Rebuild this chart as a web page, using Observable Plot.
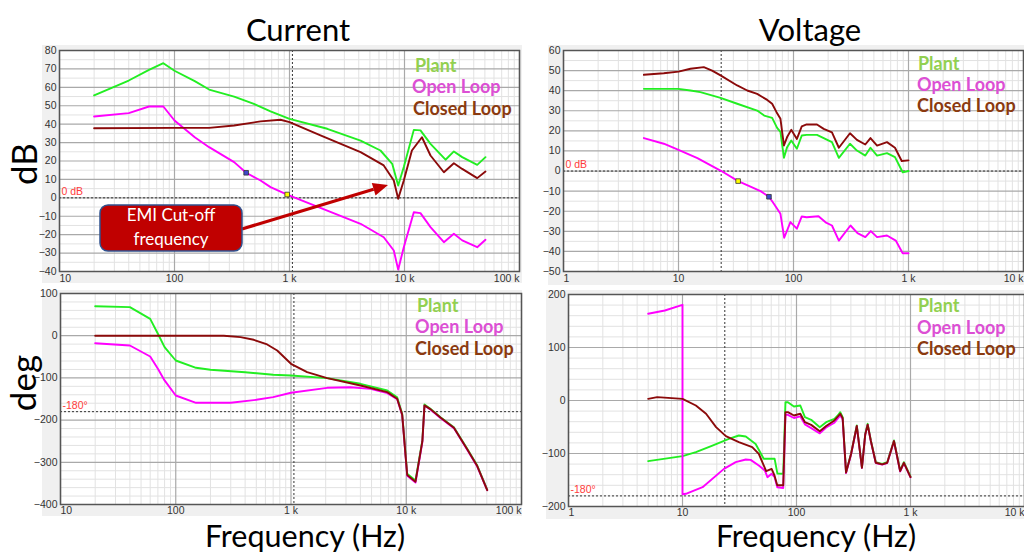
<!DOCTYPE html>
<html><head><meta charset="utf-8">
<script src="https://cdn.jsdelivr.net/npm/d3@7"></script>
<script src="https://cdn.jsdelivr.net/npm/@observablehq/plot@0.6"></script>
<style>
html,body{margin:0;padding:0;background:#fff;}
#page{position:relative;width:1024px;height:552px;overflow:hidden;background:#fff;}
.panel{position:absolute;}
#overlay{position:absolute;left:0;top:0;pointer-events:none;}
</style></head><body><div id="page"></div>
<script>
// ---------- Current: magnitude (dB) ----------
const curMagFreqPlant = [20, 40, 60, 80, 100, 150, 200, 330, 490, 684, 1000, 2130, 4150, 6180, 7820, 8810, 9860, 12050, 13770, 16830, 22740, 26870, 31760, 42880, 50600];
const curMagPlant     = [55.6, 63.7, 69.5, 73.1, 69, 63.4, 58.8, 55, 51, 47, 42.9, 37.5, 31.1, 25.7, 18.5, 6.7, 16.7, 36.9, 36.6, 29.3, 20.7, 25.2, 22.1, 17.9, 22.1];
const curMagFreqOpen  = [20, 40, 60, 80, 100, 150, 200, 330, 420, 560, 684, 955, 2130, 4150, 6600, 8070, 8810, 9860, 12050, 13770, 16830, 22000, 26870, 31760, 42880, 50600];
const curMagOpen      = [44.2, 46, 49.6, 49.6, 42, 32.9, 27.5, 19.4, 13.6, 9.4, 5.8, 1.8, -6.9, -14.1, -21.4, -28.6, -39, -26.8, -7.8, -8.3, -15.9, -24.1, -19.5, -23.1, -26.8, -22.8];
const curMagFreqClosed= [20, 100, 200, 330, 560, 835, 1000, 1860, 4150, 6600, 8070, 8810, 9860, 11600, 14180, 16830, 22000, 26870, 31760, 42880, 50600];
const curMagClosed    = [37.8, 38, 38, 39.3, 41.5, 42.4, 41.1, 33.9, 24.8, 17.6, 9.4, -0.5, 9.4, 25.7, 32.9, 23, 13.9, 18.8, 15.7, 10.7, 14.3];
const curMagMarkerFreq = [420, 955];
const curMagMarkerVal  = [13.6, 1.8];

// ---------- Voltage: magnitude (dB) ----------
const volMagFreqPlant = [5, 10, 12.7, 15.5, 23.2, 32.4, 48.3, 55.6, 65.2, 72, 77, 82.6, 88, 95.6, 107, 118, 130, 160, 183, 216, 248, 310, 356, 421, 467, 533, 650, 763, 890, 1000];
const volMagPlant     = [40.9, 40.9, 40.1, 39.3, 36.4, 33.5, 30.1, 27.6, 26.5, 21.5, 19.5, 6.6, 11.9, 15.2, 11.1, 17.7, 18, 18, 16.4, 14.4, 6.6, 13.6, 10.2, 7.7, 11.6, 7.7, 8.9, 6.9, -0.6, 0];
const volMagFreqOpen  = [5, 7.45, 10, 14.6, 23.6, 33, 51.7, 61.2, 67.5, 77, 83, 94, 107, 118, 130, 165, 190, 216, 248, 313, 360, 421, 470, 533, 650, 775, 890, 1000];
const volMagOpen      = [16.4, 13.6, 10.5, 6.4, 0, -5, -10, -12.8, -16.3, -21.3, -33.2, -25.4, -28.7, -22.6, -23, -22.5, -25.5, -27.1, -34.6, -27.1, -30.9, -32.9, -29.9, -32.9, -32.1, -34.6, -40.9, -40.9];
const volMagFreqClosed= [5, 7.45, 10, 12.7, 16.6, 19.6, 23.2, 32.4, 39.6, 48.3, 59.1, 65.2, 71.2, 77, 82.6, 88, 95.6, 107, 118, 130, 160, 183, 216, 248, 310, 356, 421, 467, 533, 650, 763, 873, 1000];
const volMagClosed    = [47.9, 48.7, 49.5, 50.9, 51.7, 50, 47.6, 42.6, 40.1, 38.4, 35.4, 33.5, 29.3, 26, 12.7, 16.9, 20.5, 16, 22.2, 23.2, 23.2, 21, 19.3, 11.6, 18.8, 15.5, 13.2, 16.4, 12.7, 14.4, 11.6, 5, 5.3];
const volMagMarkerFreq = [33, 61.2];
const volMagMarkerVal  = [-5, -12.8];

// ---------- Current: phase (deg) ----------
const curPhFreqPlant = [20, 40, 60, 70, 80, 100, 150, 200, 400, 700, 1000, 2060, 4010, 6840, 8340, 9220, 10190, 12030, 13800, 14390, 16200, 19800, 25900, 33800, 41300, 50400];
const curPhPlant     = [69.9, 67.6, 40, 4.5, -27, -58.8, -76, -80.8, -86.5, -92.7, -94.3, -100.6, -114, -129.9, -145.7, -185, -327, -343, -248, -163, -173, -193, -216.8, -268, -307.6, -365];
const curPhFreqOpen  = [20, 40, 60, 70, 80, 100, 150, 300, 500, 700, 1000, 2060, 3280, 4900, 6840, 8340, 9220, 10190, 12030, 13800, 14390, 16200, 19800, 25900, 33800, 41300, 50400];
const curPhOpen      = [-17.8, -23.2, -49.3, -78.4, -106, -141.7, -159, -159, -151.9, -145.7, -135.3, -123.5, -122, -125.9, -136, -150.5, -188, -332, -348, -252, -166, -175, -195, -219, -270, -310, -366];
const curPhFreqClosed= [20, 261, 365, 475, 621, 759, 1000, 1380, 2060, 4010, 6840, 8340, 9220, 10190, 12030, 13800, 14390, 16200, 19800, 25900, 33800, 41300, 50400];
const curPhClosed    = [0, 0, -3.5, -9.7, -20.8, -35, -66.6, -86.5, -100.6, -118, -133.8, -149.5, -187, -330, -346, -250, -165, -174, -194, -218, -269, -309, -366];

// ---------- Voltage: phase (deg) ----------
const volPhFreqPlant = [5, 10, 13.1, 18.3, 25.5, 31.2, 35.9, 43.8, 51.6, 58.7, 64.3, 68, 76.5, 80, 84, 95, 108, 118.5, 134.5, 160, 182, 215, 230, 242, 254, 272, 301, 338, 375, 401, 421, 449, 496, 565, 625, 716, 811, 875, 1000];
const volPhPlant     = [-114.5, -105, -97.5, -85, -72.6, -66, -68, -82, -110, -110, -110, -138, -138.3, -3.2, -3.2, -11.3, -9.4, -31.5, -36.5, -50.3, -41, -34.6, -28.3, -22, -31.5, -135.2, -100.6, -47.2, -125.8, -62.9, -44, -75.5, -116.4, -119.5, -116.4, -75.5, -132, -116.4, -143.4];
const volPhFreqOpen  = [5, 7, 10, 10, 10.7, 15, 23.1, 29.3, 35.9, 39.6, 46.7, 52.7, 55.6, 60.5, 64.3, 67.8, 76.5, 80, 84, 95, 108, 118.5, 134.5, 160, 182, 215, 242, 254, 272, 301, 338, 375, 401, 421, 449, 496, 565, 625, 716, 811, 875, 1000];
const volPhOpen      = [163.6, 169.8, 180.5, -177, -176, -163.6, -129, -116.4, -111.3, -112, -122.6, -132, -144.7, -138.3, -144.7, -163.6, -165, -27, -27, -33, -30, -45, -52, -62, -51, -42, -28, -36, -137, -102, -49, -127, -64, -46, -77, -118, -121, -118, -77, -134, -118, -145];
const volPhFreqClosed= [5, 6, 10, 13.1, 16.1, 19.7, 24, 31.2, 40.9, 46.7, 54.2, 60.5, 64.1, 67.8, 76.5, 80, 84, 95, 108, 118.5, 134.5, 160, 182, 215, 242, 254, 272, 301, 338, 375, 401, 421, 449, 496, 565, 625, 716, 811, 875, 1000];
const volPhClosed    = [3.1, 6.3, 3.1, -9.4, -25, -50.3, -67.3, -78.6, -88, -100.6, -133.3, -129, -141.5, -160, -160, -22, -22, -28.3, -25, -41, -46, -58, -48, -37.7, -25, -33, -136, -101, -48, -127, -64, -45.5, -76.5, -117.5, -120.5, -117.5, -76.5, -133, -117.5, -144.5];

// ---------- Axis ticks & labels ----------
const curFreqTicks = [10, 100, 1000, 10000, 100000];
const volFreqTicks = [1, 10, 100, 1000, 10000];
const curMagTicks = [-40, -30, -20, -10, 0, 10, 20, 30, 40, 50, 60, 70, 80];
const volMagTicks = [-50, -40, -30, -20, -10, 0, 10, 20, 30, 40, 50, 60];
const curPhTicks = [-400, -300, -200, -100, 0, 100];
const volPhTicks = [-200, -100, 0, 100, 200];
const seriesNames = ["Plant", "Open Loop", "Closed Loop"];
const panelTitles = ["Current", "Voltage"];
const yTitles = ["dB", "deg"];
const xTitle = "Frequency (Hz)";
const emiLabel = ["EMI Cut-off", "frequency"];
const emiArrowFrom = [390, -17.2];
const emiArrowTo = [7260, 6.7];

// ---------- styling ----------
const C_PLANT = "#22ee22", C_OPEN = "#ff00ff", C_CLOSED = "#8b0a0a";
const L_COLORS = ["#92d050", "#dc4fd4", "#8b3a0f"];
const fmtX = d => d >= 1000 ? (d / 1000) + " k" : String(d);
const zip = (fs, vs) => fs.map((f, i) => ({f, v: vs[i]}));
const page = document.getElementById("page");

function makePanel(cfg) {
  const minorX = d3.scaleLog().domain(cfg.xDomain).ticks().filter(t => !cfg.xTicks.some(d => Math.abs(d - t) < 1e-9 * d));
  const minorY = d3.range(cfg.yDomain[0], cfg.yDomain[1] + 1e-9, cfg.yMinorStep).filter(v => !cfg.yTicks.includes(v));
  const n = cfg.xTicks.length;
  const ax = {tickSize: 0, tickPadding: cfg.xPad ?? 3, tickFormat: fmtX, color: "#333", fontSize: 10.5, label: null};
  const marks = [
    Plot.frame({fill: "white", stroke: "none"}),
    Plot.ruleX(minorX, {stroke: "#e2e2e2", strokeWidth: 1}),
    Plot.ruleY(minorY, {stroke: "#e2e2e2", strokeWidth: 1}),
    Plot.ruleX(cfg.xTicks, {stroke: "#a9a9a9", strokeWidth: 1.2}),
    Plot.ruleY(cfg.yTicks, {stroke: "#a9a9a9", strokeWidth: 1.2}),
    Plot.ruleY([cfg.refY], {stroke: "#333", strokeWidth: 1, strokeDasharray: "2,2"}),
    Plot.ruleX([cfg.refX], {stroke: "#333", strokeWidth: 1, strokeDasharray: "2,2"}),
    Plot.text([{f: cfg.xDomain[0], v: cfg.refY, t: cfg.refLabel}], {x: "f", y: "v", text: "t", dx: 2, dy: -6, textAnchor: "start", fill: "#ff3b3b", fontSize: 10.5}),
    ...cfg.series.map(s => Plot.line(s.data, {x: "f", y: "v", stroke: s.color, strokeWidth: 1.9, curve: "linear"})),
    ...(cfg.markers ? cfg.markers.map(m => Plot.dot([m], {x: "f", y: "v", symbol: "square", r: 2.6, fill: m.fill, stroke: "#333", strokeWidth: 0.8})) : []),
    Plot.axisX([cfg.xTicks[0]], {...ax, textAnchor: "start"}),
    Plot.axisX(cfg.xTicks.slice(1, -1), {...ax}),
    Plot.axisX([cfg.xTicks[n - 1]], {...ax, textAnchor: "end"}),
    Plot.axisY(cfg.yTicks, {tickSize: 0, tickPadding: 3, color: "#333", fontSize: 10.5, label: null}),
    Plot.frame({stroke: "#555", strokeWidth: 1.5})
  ];
  const chart = Plot.plot({
    width: cfg.width, height: cfg.height,
    marginLeft: cfg.m[0], marginRight: cfg.m[1], marginTop: cfg.m[2], marginBottom: cfg.m[3],
    x: {type: "log", domain: cfg.xDomain, label: null},
    y: {domain: cfg.yDomain, label: null},
    style: {background: "#f0f0f0", maxWidth: "none", overflow: "visible", fontFamily: "'Liberation Sans', Arial, sans-serif", fontSize: "10.5px"},
    marks
  });
  const div = document.createElement("div");
  div.className = "panel";
  div.style.left = cfg.left + "px"; div.style.top = cfg.top + "px";
  div.style.width = cfg.width + "px"; div.style.height = cfg.height + "px";
  div.appendChild(chart);
  page.appendChild(div);
  return chart;
}

const tl = makePanel({
  left: 42, top: 45, width: 480, height: 238, m: [17, 3, 5, 12],
  xDomain: [10, 100000], xTicks: curFreqTicks, yDomain: [-40, 80], yTicks: curMagTicks, yMinorStep: 5,
  refY: 0, refLabel: "0 dB", refX: 1060,
  series: [
    {data: zip(curMagFreqPlant, curMagPlant), color: C_PLANT},
    {data: zip(curMagFreqOpen, curMagOpen), color: C_OPEN},
    {data: zip(curMagFreqClosed, curMagClosed), color: C_CLOSED}
  ],
  markers: [
    {f: curMagMarkerFreq[0], v: curMagMarkerVal[0], fill: "#3f48cc"},
    {f: curMagMarkerFreq[1], v: curMagMarkerVal[1], fill: "#ffff00"}
  ]
});
makePanel({
  left: 548, top: 45, width: 476, height: 240, m: [15, 1, 5, 14],
  xDomain: [1, 10000], xTicks: volFreqTicks, yDomain: [-50, 60], yTicks: volMagTicks, yMinorStep: 5,
  refY: 0, refLabel: "0 dB", refX: 23.5,
  series: [
    {data: zip(volMagFreqPlant, volMagPlant), color: C_PLANT},
    {data: zip(volMagFreqOpen, volMagOpen), color: C_OPEN},
    {data: zip(volMagFreqClosed, volMagClosed), color: C_CLOSED}
  ],
  markers: [
    {f: volMagMarkerFreq[0], v: volMagMarkerVal[0], fill: "#ffff00"},
    {f: volMagMarkerFreq[1], v: volMagMarkerVal[1], fill: "#3f48cc"}
  ]
});
makePanel({
  left: 42, top: 290, width: 480, height: 226, m: [18, 1, 3, 12], xPad: 2,
  xDomain: [10, 100000], xTicks: curFreqTicks, yDomain: [-400, 100], yTicks: curPhTicks, yMinorStep: 20,
  refY: -180, refLabel: "-180°", refX: 1060,
  series: [
    {data: zip(curPhFreqPlant, curPhPlant), color: C_PLANT},
    {data: zip(curPhFreqOpen, curPhOpen), color: C_OPEN},
    {data: zip(curPhFreqClosed, curPhClosed), color: C_CLOSED}
  ]
});
makePanel({
  left: 546, top: 290, width: 478, height: 229, m: [22, 0, 4, 13], xPad: 2,
  xDomain: [1, 10000], xTicks: volFreqTicks, yDomain: [-200, 200], yTicks: volPhTicks, yMinorStep: 20,
  refY: -180, refLabel: "-180°", refX: 23.5,
  series: [
    {data: zip(volPhFreqPlant, volPhPlant), color: C_PLANT},
    {data: zip(volPhFreqOpen, volPhOpen), color: C_OPEN},
    {data: zip(volPhFreqClosed, volPhClosed), color: C_CLOSED}
  ]
});

// EMI arrow drawn through the current-magnitude panel's scales
{
  const sx = tl.scale("x"), sy = tl.scale("y");
  const x1 = sx.apply(emiArrowFrom[0]), y1 = sy.apply(emiArrowFrom[1]);
  const x2 = sx.apply(emiArrowTo[0]), y2 = sy.apply(emiArrowTo[1]);
  const a = Math.atan2(y2 - y1, x2 - x1), L = 15, W = 6.5;
  const bx = x2 - L * Math.cos(a), by = y2 - L * Math.sin(a);
  const g = d3.select(tl).append("g");
  g.append("line").attr("x1", x1).attr("y1", y1).attr("x2", bx).attr("y2", by)
    .attr("stroke", "#c00000").attr("stroke-width", 3.2);
  g.append("polygon").attr("fill", "#c00000").attr("points", [
    [x2, y2],
    [bx + W * Math.sin(a), by - W * Math.cos(a)],
    [bx - W * Math.sin(a), by + W * Math.cos(a)]
  ].map(p => p.join(",")).join(" "));
}

// Overlay text: titles, axis titles, legends, annotation box
const ov = d3.select(page).append("svg").attr("id", "overlay").attr("width", 1024).attr("height", 552);
const font = "Lato, 'Open Sans', sans-serif";
[[298, panelTitles[0]], [810, panelTitles[1]]].forEach(([x, t]) =>
  ov.append("text").attr("x", x).attr("y", 41).attr("text-anchor", "middle").attr("font-family", font).attr("font-size", 31).attr("fill", "#000").text(t));
[305, 816].forEach(x =>
  ov.append("text").attr("x", x).attr("y", 547).attr("text-anchor", "middle").attr("font-family", font).attr("font-size", 30.5).attr("fill", "#000").text(xTitle));
ov.append("text").attr("transform", "translate(37,164) rotate(-90)").attr("text-anchor", "middle").attr("font-family", font).attr("font-size", 35).attr("fill", "#000").text(yTitles[0]);
ov.append("text").attr("transform", "translate(36,383) rotate(-90)").attr("text-anchor", "middle").attr("font-family", font).attr("font-size", 35).attr("fill", "#000").text(yTitles[1]);
const legendPos = [
  [[415, 72], [412, 93], [413, 115]],
  [[918, 70], [917, 91], [917, 112]],
  [[417, 312], [415, 333], [415, 355]],
  [[918, 312], [917, 334], [917, 355]]
];
legendPos.forEach(pos => pos.forEach(([x, y], i) =>
  ov.append("text").attr("x", x).attr("y", y).attr("font-family", font).attr("font-weight", 700).attr("font-size", 18).attr("fill", L_COLORS[i]).text(seriesNames[i])));
ov.append("rect").attr("x", 100).attr("y", 205).attr("width", 142).attr("height", 46).attr("rx", 8)
  .attr("fill", "#c00000").attr("stroke", "#2f528f").attr("stroke-width", 1.5);
emiLabel.forEach((t, i) =>
  ov.append("text").attr("x", 171).attr("y", 221 + i * 24).attr("text-anchor", "middle").attr("font-family", font).attr("font-size", 17).attr("fill", "#fff").text(t));
</script></body></html>
